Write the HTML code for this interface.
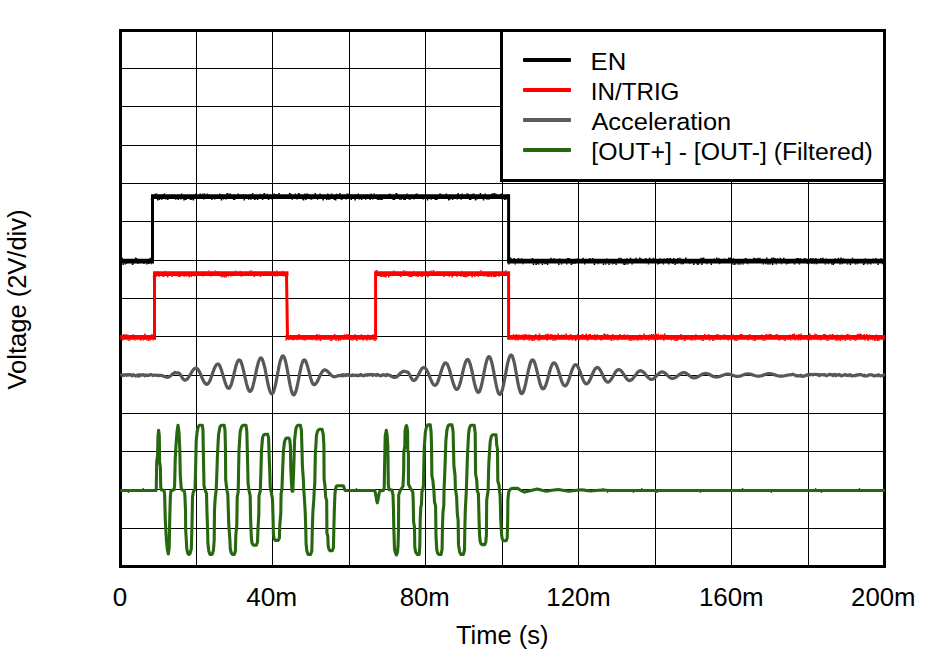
<!DOCTYPE html>
<html><head><meta charset="utf-8"><title>Waveform</title>
<style>
html,body{margin:0;padding:0;background:#fff}
svg{display:block}
text{font-family:"Liberation Sans",Arial,sans-serif;font-size:25px;fill:#000}
</style></head><body>
<svg width="930" height="657" viewBox="0 0 930 657">
<rect width="930" height="657" fill="#fff"/>
<path d="M196.5 30.5V566.5M272.5 30.5V566.5M349.5 30.5V566.5M425.5 30.5V566.5M502.5 30.5V566.5M578.5 30.5V566.5M655.5 30.5V566.5M731.5 30.5V566.5M808.5 30.5V566.5M120.5 68.5H884.5M120.5 106.5H884.5M120.5 145.5H884.5M120.5 183.5H884.5M120.5 221.5H884.5M120.5 260.5H884.5M120.5 298.5H884.5M120.5 336.5H884.5M120.5 375.5H884.5M120.5 413.5H884.5M120.5 451.5H884.5M120.5 489.5H884.5M120.5 528.5H884.5" stroke="#000" stroke-width="1" fill="none" shape-rendering="crispEdges"/>
<rect x="120.5" y="30.5" width="764.0" height="536.0" fill="none" stroke="#000" stroke-width="3" shape-rendering="crispEdges"/>
<g fill="none" stroke-linejoin="round" stroke-linecap="butt">
<path d="M120.3 261.1H154.0M151.0 196.7H510.1M507.1 261.1H884.8" stroke="#000" stroke-width="4.7"/>
<path d="M120.8 259.1v-1.6M122.1 259.1v-1.6M123.1 263.2v1.7M125.4 263.2v1.2M126.4 263.2v0.8M132.5 263.2v1.7M133.3 263.2v1.0M135.6 259.1v-1.6M136.6 259.1v-1.1M137.9 263.2v0.8M143.9 263.2v0.8M146.8 263.2v1.2M148.1 263.2v0.8M148.9 263.2v0.8M150.2 259.1v-1.3M151.5 263.2v1.0M152.5 259.1v-1.1M151.5 198.7v1.3M152.3 198.7v0.8M153.1 198.7v1.3M155.1 194.7v-0.9M156.1 194.7v-1.3M156.9 194.7v-0.9M157.7 198.7v1.7M159.5 198.7v1.3M161.9 198.7v1.0M162.9 194.7v-0.7M164.5 194.7v-1.1M165.8 198.7v0.8M167.8 198.7v1.2M175.7 198.7v1.0M178.3 198.7v1.3M180.9 198.7v0.8M181.7 194.7v-1.1M184.0 198.7v1.7M185.3 198.7v1.0M186.1 198.7v1.3M190.3 198.7v1.0M191.1 198.7v1.3M192.4 198.7v0.8M193.4 198.7v1.7M195.8 194.7v-1.3M200.2 194.7v-1.1M202.8 194.7v-1.1M203.8 198.7v0.8M204.6 194.7v-1.1M207.4 194.7v-1.3M211.9 198.7v1.3M214.8 198.7v0.8M219.8 194.7v-1.3M221.4 198.7v1.7M222.2 194.7v-0.7M223.5 198.7v0.8M226.1 198.7v0.8M227.1 194.7v-1.6M228.1 194.7v-1.1M229.4 194.7v-0.9M230.4 194.7v-1.1M233.7 198.7v1.2M234.7 198.7v1.3M238.3 194.7v-1.1M243.5 194.7v-0.7M244.3 198.7v1.7M248.7 198.7v1.0M250.0 194.7v-0.7M251.0 198.7v1.0M252.6 194.7v-1.6M254.6 198.7v1.3M255.6 198.7v0.8M257.7 198.7v1.2M260.3 194.7v-0.9M262.6 198.7v1.3M263.6 194.7v-0.9M264.4 194.7v-1.6M267.0 194.7v-0.9M268.6 198.7v1.3M272.0 198.7v0.8M273.0 194.7v-0.7M274.3 194.7v-1.3M275.3 194.7v-0.7M277.1 194.7v-0.7M279.1 194.7v-1.6M289.6 194.7v-1.6M290.6 194.7v-1.3M292.2 198.7v1.0M295.4 194.7v-1.3M297.0 198.7v0.8M298.6 194.7v-1.6M299.4 194.7v-1.3M302.6 198.7v0.8M303.6 198.7v1.7M304.9 194.7v-1.3M305.9 198.7v1.3M306.9 194.7v-1.3M308.5 194.7v-0.9M310.8 198.7v0.8M311.6 198.7v1.0M315.2 194.7v-1.6M317.6 198.7v1.0M320.0 194.7v-1.3M323.2 198.7v1.7M326.8 198.7v1.2M327.8 194.7v-1.1M328.8 198.7v1.0M329.6 198.7v1.0M331.6 194.7v-1.3M333.9 198.7v0.8M334.7 198.7v1.2M335.7 198.7v1.7M336.7 194.7v-0.9M337.5 194.7v-0.7M339.9 194.7v-1.6M341.2 198.7v1.0M342.0 198.7v1.0M346.1 198.7v0.8M347.1 194.7v-1.3M348.7 194.7v-0.9M350.3 194.7v-0.7M351.3 198.7v1.3M355.2 198.7v1.7M356.0 194.7v-0.7M358.3 194.7v-1.1M359.3 198.7v0.8M361.6 198.7v1.2M365.8 198.7v1.0M367.6 194.7v-0.7M370.2 198.7v1.2M371.2 194.7v-1.3M372.8 198.7v0.8M374.1 194.7v-1.3M377.2 198.7v0.8M378.2 198.7v1.3M379.8 198.7v1.0M381.1 198.7v1.2M382.1 198.7v1.2M389.0 194.7v-0.9M390.3 194.7v-0.9M393.2 198.7v1.3M394.5 198.7v1.3M396.1 194.7v-1.6M397.1 194.7v-1.1M399.7 198.7v1.0M401.3 198.7v1.0M403.9 198.7v1.2M405.2 198.7v1.2M407.0 194.7v-1.3M409.0 198.7v0.8M410.3 198.7v1.0M414.0 198.7v0.8M415.8 194.7v-0.9M417.1 194.7v-1.1M423.3 198.7v0.8M427.5 198.7v1.7M431.1 198.7v1.0M435.3 198.7v1.3M436.9 198.7v1.2M439.7 194.7v-1.1M440.7 194.7v-1.3M446.4 194.7v-1.1M448.7 198.7v1.7M449.7 198.7v1.0M452.6 198.7v1.2M457.3 198.7v0.8M458.1 194.7v-1.6M461.2 198.7v1.0M462.2 194.7v-1.1M466.8 194.7v-1.1M468.1 194.7v-1.3M469.7 198.7v1.2M470.7 198.7v1.3M472.3 194.7v-0.9M473.9 194.7v-1.3M475.5 198.7v1.7M477.1 198.7v0.8M480.4 194.7v-1.6M483.5 198.7v1.7M485.3 194.7v-1.1M486.9 198.7v1.0M489.0 198.7v1.0M491.9 194.7v-1.3M493.2 194.7v-1.1M494.2 194.7v-1.6M495.8 194.7v-1.1M500.6 194.7v-0.7M501.4 194.7v-1.3M502.4 198.7v1.0M504.7 198.7v1.3M506.3 198.7v0.8M507.6 194.7v-0.7M508.9 263.2v1.3M509.7 259.1v-0.9M510.7 259.1v-1.6M514.0 259.1v-1.1M515.3 263.2v1.2M518.5 259.1v-1.1M521.6 259.1v-0.9M522.9 263.2v1.0M532.5 259.1v-1.1M533.5 263.2v1.7M536.1 263.2v1.7M536.9 263.2v1.0M537.7 263.2v1.0M538.7 263.2v1.2M542.4 263.2v1.7M545.0 263.2v1.0M546.3 263.2v0.8M547.6 263.2v1.7M550.9 259.1v-1.3M553.8 259.1v-0.9M558.8 263.2v1.7M559.6 259.1v-0.7M561.6 263.2v1.3M566.8 263.2v1.3M567.6 259.1v-1.1M569.2 259.1v-1.1M571.3 263.2v1.7M572.1 263.2v1.0M573.1 263.2v0.8M575.2 263.2v0.8M577.5 259.1v-0.7M583.1 259.1v-1.3M584.7 263.2v1.3M589.9 259.1v-1.1M592.7 259.1v-1.1M594.5 263.2v1.7M598.1 263.2v1.0M603.5 263.2v1.7M605.8 263.2v1.2M606.8 259.1v-0.7M609.1 263.2v1.7M612.5 263.2v1.2M614.1 263.2v0.8M616.1 263.2v1.7M618.9 259.1v-1.3M620.9 259.1v-1.3M623.3 263.2v1.3M624.6 263.2v1.7M625.9 263.2v1.3M626.9 259.1v-0.9M627.9 263.2v1.2M630.5 259.1v-1.3M632.1 263.2v1.2M636.0 259.1v-1.3M639.7 259.1v-1.6M641.0 259.1v-0.7M645.9 259.1v-1.1M648.5 263.2v1.3M649.5 259.1v-1.3M650.3 259.1v-0.7M653.5 259.1v-1.3M657.8 263.2v1.3M659.4 263.2v0.8M660.2 259.1v-0.9M663.4 263.2v1.2M664.2 259.1v-0.7M667.1 259.1v-1.1M668.7 263.2v1.2M669.5 259.1v-1.1M670.5 259.1v-0.9M672.8 263.2v0.8M673.8 259.1v-1.1M675.1 263.2v1.7M677.1 263.2v0.8M677.9 259.1v-1.1M679.9 259.1v-1.3M681.2 263.2v1.0M682.2 263.2v1.0M683.2 263.2v1.0M685.8 259.1v-1.6M689.6 263.2v0.8M693.8 263.2v1.7M696.9 263.2v1.0M697.9 263.2v1.7M698.7 263.2v1.0M701.1 259.1v-1.3M701.9 263.2v1.7M702.9 259.1v-1.3M703.7 259.1v-1.6M706.9 263.2v1.0M711.3 263.2v1.7M713.9 259.1v-0.7M716.7 259.1v-1.6M718.8 259.1v-1.1M719.6 263.2v1.0M724.6 259.1v-0.7M728.8 259.1v-1.6M729.8 259.1v-0.9M730.8 259.1v-1.6M732.1 263.2v1.3M733.4 259.1v-0.9M734.2 263.2v1.7M735.2 263.2v1.3M737.6 263.2v1.3M739.2 263.2v1.3M740.8 263.2v1.3M743.2 263.2v1.2M745.0 259.1v-0.7M746.0 259.1v-1.1M747.6 263.2v1.0M753.9 259.1v-1.3M754.9 259.1v-0.7M755.9 259.1v-0.9M757.9 259.1v-1.3M759.9 259.1v-1.3M763.2 263.2v1.2M765.8 263.2v1.0M766.8 259.1v-1.6M767.8 263.2v1.2M768.6 263.2v1.2M770.4 263.2v1.2M771.7 259.1v-1.3M772.7 263.2v1.7M773.5 259.1v-1.6M774.5 259.1v-0.9M775.5 259.1v-0.9M776.3 263.2v1.3M777.6 259.1v-0.9M780.2 259.1v-1.3M781.5 263.2v1.0M783.8 259.1v-1.3M786.4 263.2v1.2M788.4 263.2v0.8M794.5 263.2v1.2M796.1 259.1v-0.7M797.4 259.1v-1.1M798.4 259.1v-1.1M799.4 263.2v1.3M800.4 259.1v-0.9M804.4 259.1v-1.1M806.0 259.1v-0.7M807.3 263.2v0.8M808.6 263.2v1.3M810.9 259.1v-1.1M811.9 263.2v0.8M812.9 259.1v-1.1M814.5 263.2v1.0M815.8 259.1v-1.1M816.8 263.2v1.0M820.8 259.1v-1.1M822.9 259.1v-1.3M825.3 263.2v1.3M826.3 259.1v-0.7M828.3 263.2v1.0M831.7 263.2v1.3M833.3 263.2v1.7M834.3 263.2v0.8M835.1 259.1v-0.9M838.4 259.1v-1.3M840.0 263.2v1.3M841.0 259.1v-1.6M842.3 263.2v1.0M843.3 259.1v-0.9M847.5 263.2v1.3M850.4 263.2v1.7M852.5 259.1v-1.3M855.4 263.2v1.2M857.4 263.2v1.0M863.6 263.2v1.7M864.6 263.2v1.0M865.4 259.1v-0.9M867.7 263.2v1.3M870.0 263.2v0.8M870.8 263.2v1.2M873.2 259.1v-0.7M875.8 259.1v-1.1M878.1 263.2v1.7M881.0 259.1v-0.9M882.6 263.2v1.0M883.9 263.2v0.8" stroke="#000" stroke-width="1.5"/>
<path d="M152.5 261.1L152.5 196.7M508.6 196.7L508.6 261.1" stroke="#000" stroke-width="3"/>
<path d="M120.3 337.3H156.0M153.0 273.7H288.5M285.5 337.3H377.1M374.1 273.7H510.1M507.1 337.3H884.8" stroke="#f00" stroke-width="4.7"/>
<path d="M122.6 339.4v1.2M123.9 335.2v-1.1M125.9 335.2v-0.9M127.5 335.2v-0.7M128.3 339.4v1.3M129.6 339.4v1.3M133.2 335.2v-0.9M134.8 339.4v1.2M140.7 339.4v1.3M143.3 339.4v1.0M144.9 335.2v-1.6M146.7 339.4v0.8M148.3 339.4v1.7M150.3 339.4v1.2M151.9 335.2v-1.3M153.5 339.4v1.0M153.5 275.8v1.7M156.1 275.8v1.3M157.1 271.6v-0.7M159.2 275.8v1.0M163.1 275.8v1.3M164.4 275.8v0.8M165.4 271.6v-0.9M167.7 275.8v1.7M171.9 275.8v1.3M178.4 275.8v1.0M180.0 275.8v1.3M184.2 275.8v1.0M186.5 275.8v0.8M189.1 275.8v1.7M191.4 275.8v1.3M194.5 275.8v0.8M203.0 275.8v0.8M205.3 271.6v-0.7M208.9 271.6v-1.1M210.9 275.8v0.8M215.3 271.6v-1.1M216.3 271.6v-0.7M217.9 271.6v-0.7M220.2 275.8v0.8M222.0 275.8v1.7M223.3 275.8v0.8M224.3 275.8v1.7M226.1 275.8v1.7M228.4 275.8v0.8M231.6 275.8v0.8M235.6 271.6v-1.1M240.4 271.6v-0.9M241.4 275.8v1.0M249.9 271.6v-0.9M250.9 271.6v-1.1M251.7 271.6v-1.1M254.3 275.8v1.2M255.6 271.6v-0.7M260.5 275.8v1.2M265.5 271.6v-0.7M275.3 275.8v0.8M276.6 271.6v-1.1M277.6 275.8v0.8M282.6 271.6v-0.9M283.6 275.8v0.8M286.0 339.4v1.2M287.3 335.2v-1.6M288.9 339.4v0.8M293.1 339.4v1.0M297.3 339.4v0.8M298.9 335.2v-1.1M304.1 339.4v1.0M305.4 339.4v1.0M312.2 339.4v0.8M316.1 339.4v1.3M316.9 335.2v-1.1M318.5 339.4v1.0M319.5 335.2v-0.7M320.5 339.4v1.7M330.6 339.4v1.3M331.6 339.4v1.7M334.7 335.2v-1.3M336.0 339.4v1.7M338.6 339.4v1.7M340.4 339.4v1.2M344.5 335.2v-0.9M346.8 335.2v-1.3M348.9 335.2v-1.3M351.0 339.4v0.8M351.8 339.4v1.2M352.8 339.4v1.2M355.1 335.2v-0.9M356.7 339.4v1.7M361.5 335.2v-0.9M363.1 339.4v1.2M366.7 339.4v1.3M368.0 335.2v-0.7M370.1 339.4v0.8M372.9 335.2v-0.9M374.5 339.4v1.7M375.5 339.4v1.0M375.6 271.6v-1.1M376.9 271.6v-1.6M380.5 275.8v1.0M381.3 275.8v1.3M383.3 275.8v1.2M384.3 275.8v1.3M385.9 275.8v1.7M388.8 275.8v1.7M393.0 271.6v-0.7M394.0 271.6v-1.1M400.5 275.8v1.2M403.6 271.6v-1.3M405.9 271.6v-0.9M409.3 275.8v1.2M410.3 275.8v1.0M411.3 275.8v1.2M412.9 275.8v0.8M413.9 271.6v-0.9M415.7 275.8v0.8M416.5 275.8v0.8M418.1 275.8v1.3M420.9 275.8v1.0M421.7 275.8v1.0M422.5 275.8v1.0M426.1 271.6v-0.7M427.9 275.8v1.7M429.5 271.6v-0.7M431.1 271.6v-1.1M433.5 271.6v-1.6M437.7 271.6v-0.7M443.3 271.6v-0.7M444.1 275.8v1.2M449.3 275.8v1.0M452.2 275.8v1.7M453.0 271.6v-0.7M456.9 275.8v1.0M460.9 275.8v1.0M461.9 271.6v-0.9M463.5 275.8v1.2M464.8 275.8v1.3M465.6 275.8v1.7M466.9 275.8v1.0M467.9 275.8v0.8M472.1 275.8v1.7M474.7 275.8v1.3M478.3 275.8v1.0M480.3 271.6v-0.9M481.1 271.6v-1.3M483.7 275.8v0.8M486.5 275.8v0.8M488.1 275.8v1.3M489.7 275.8v1.0M491.5 275.8v1.2M493.8 275.8v1.2M494.8 275.8v1.3M495.8 275.8v1.3M499.0 275.8v1.0M505.8 271.6v-1.3M508.2 275.8v1.7M509.2 275.8v1.3M508.6 335.2v-1.6M513.6 335.2v-0.9M515.7 339.4v1.2M516.5 335.2v-1.3M518.1 339.4v1.0M518.9 335.2v-0.7M522.5 335.2v-0.7M524.1 339.4v1.2M524.9 335.2v-1.3M526.2 335.2v-0.7M528.2 335.2v-0.7M529.0 339.4v1.0M529.8 335.2v-0.7M530.6 339.4v0.8M532.2 339.4v1.7M534.2 339.4v1.7M535.8 335.2v-1.1M538.6 339.4v1.3M539.4 335.2v-1.6M540.4 339.4v0.8M545.9 335.2v-1.3M547.2 339.4v1.3M548.0 335.2v-1.6M550.4 335.2v-1.3M552.0 335.2v-0.9M553.0 339.4v1.3M553.8 339.4v1.2M554.8 335.2v-0.7M555.6 339.4v1.3M558.2 335.2v-1.6M561.6 335.2v-0.7M564.0 335.2v-0.7M566.1 335.2v-1.6M568.4 339.4v0.8M569.4 339.4v0.8M570.7 335.2v-1.1M572.3 339.4v1.0M574.7 339.4v0.8M575.7 339.4v1.7M577.7 335.2v-1.3M579.0 339.4v1.0M581.8 335.2v-0.7M582.8 335.2v-1.3M586.2 335.2v-1.6M587.2 339.4v1.3M588.2 339.4v0.8M589.2 335.2v-1.1M590.2 335.2v-1.1M594.4 335.2v-0.9M595.4 339.4v1.2M597.2 335.2v-0.9M600.9 339.4v1.0M601.7 339.4v1.2M604.0 335.2v-1.6M605.3 335.2v-1.3M607.6 335.2v-1.3M610.4 339.4v0.8M611.4 339.4v1.7M612.7 335.2v-1.1M613.7 339.4v1.2M617.6 339.4v1.2M619.9 335.2v-1.1M624.4 335.2v-0.9M627.6 335.2v-0.7M629.4 339.4v1.3M630.4 339.4v1.3M631.7 339.4v1.3M633.5 339.4v0.8M634.5 339.4v0.8M636.9 339.4v1.2M638.5 339.4v1.2M639.8 335.2v-0.7M641.4 339.4v1.0M644.2 335.2v-1.6M646.2 339.4v0.8M648.8 339.4v1.3M649.6 335.2v-0.7M651.6 335.2v-1.3M653.6 335.2v-1.1M654.6 339.4v1.0M655.6 335.2v-1.6M656.6 335.2v-1.3M657.4 339.4v0.8M658.4 335.2v-1.6M661.0 335.2v-0.7M662.8 335.2v-0.7M663.8 339.4v1.3M664.8 335.2v-1.6M671.3 339.4v1.0M674.4 339.4v1.3M675.7 339.4v1.2M676.7 339.4v1.7M677.5 339.4v1.3M681.1 335.2v-1.1M684.7 339.4v1.7M685.5 339.4v0.8M690.7 339.4v1.0M691.7 339.4v0.8M692.5 339.4v1.0M695.1 339.4v1.0M695.9 335.2v-0.9M700.8 339.4v0.8M701.8 339.4v1.2M703.4 339.4v1.7M704.7 335.2v-1.1M708.6 335.2v-1.3M709.6 339.4v1.3M712.8 339.4v1.7M714.4 339.4v0.8M717.0 335.2v-1.3M718.8 335.2v-0.7M720.4 339.4v0.8M724.0 335.2v-0.7M725.0 335.2v-0.7M728.2 339.4v1.0M729.0 339.4v0.8M733.2 335.2v-0.7M734.8 339.4v1.3M736.4 339.4v1.7M738.0 339.4v0.8M740.4 335.2v-1.3M742.0 335.2v-1.1M748.0 339.4v1.0M749.6 335.2v-1.3M753.0 339.4v1.0M753.8 339.4v1.0M755.1 339.4v1.7M761.6 335.2v-0.7M762.6 339.4v1.0M763.6 339.4v1.2M764.9 339.4v1.3M766.2 335.2v-1.3M767.8 335.2v-0.7M769.4 335.2v-1.1M771.0 335.2v-1.3M776.2 335.2v-1.3M777.5 335.2v-0.7M778.8 339.4v1.0M779.6 339.4v1.0M784.0 339.4v0.8M785.0 339.4v1.7M789.7 335.2v-0.7M790.5 339.4v1.0M792.5 335.2v-1.3M794.1 335.2v-1.6M795.1 339.4v1.2M796.4 335.2v-0.7M798.2 339.4v1.2M799.0 335.2v-1.1M800.3 339.4v1.0M801.1 335.2v-1.6M808.1 339.4v1.2M809.1 339.4v1.2M809.9 335.2v-1.6M810.9 339.4v0.8M814.9 335.2v-1.6M816.7 335.2v-0.9M818.3 339.4v0.8M820.9 339.4v1.2M823.7 335.2v-1.3M824.7 335.2v-1.1M825.7 335.2v-0.7M827.0 339.4v1.7M828.6 339.4v1.2M829.9 335.2v-0.9M831.9 335.2v-0.7M832.9 335.2v-1.3M836.3 339.4v1.7M837.3 335.2v-0.7M838.3 339.4v1.2M840.3 339.4v1.7M841.6 335.2v-0.7M842.4 339.4v0.8M845.3 339.4v1.3M846.3 339.4v0.8M847.1 335.2v-1.1M848.1 335.2v-0.7M849.4 335.2v-0.7M850.4 339.4v1.3M854.6 339.4v1.0M855.9 339.4v1.3M857.5 335.2v-1.1M859.1 335.2v-1.1M860.4 335.2v-1.6M861.2 335.2v-1.3M864.2 335.2v-1.1M865.0 339.4v1.2M866.8 335.2v-1.1M868.1 339.4v1.7M869.4 335.2v-0.7M872.8 339.4v0.8M874.8 339.4v1.7M875.6 339.4v1.0M876.4 335.2v-0.7M877.4 339.4v1.7M878.4 339.4v1.3M879.2 339.4v1.0M883.4 339.4v1.7" stroke="#f00" stroke-width="1.5"/>
<path d="M154.5 337.3L154.5 273.7M286.5 273.7L287.5 337.3M375.6 337.3L375.6 273.7M508.6 273.7L508.6 337.3" stroke="#f00" stroke-width="3"/>
<path d="M120.3 375L121.2 374.8L122.1 375.5L123 374.7L123.9 375.4L124.8 375.1L125.7 374.6L126.6 375.3L127.5 374.6L128.4 375.2L129.3 374.7L130.2 374.7L131.1 375.2L132 375.8L132.9 374.7L133.8 374.9L134.7 375.5L135.6 376L136.5 375.4L137.4 375.1L138.3 376L139.2 374.6L140.2 375.8L141.1 375L142 374.8L142.9 374.7L143.8 375L144.7 375.8L145.6 374.8L146.5 375.4L147.4 375.5L148.3 375.1L149.2 375.4L150.1 374.6L151 374.6L151.9 374.9L152.8 375.6L153.7 375.2L154.6 375L155.5 375.4L156.4 375.2L157.3 375L158.2 375.7L159.1 375.6L160 375.3L161 375.4L161.9 375.6L162.9 375.9L163.8 376.3L164.8 376.7L165.8 377L166.7 377.2L167.7 377.3L168.6 377.1L169.6 376.6L170.5 375.9L171.4 375.1L172.4 374.2L173.3 373.5L174.3 373L175.2 372.4L176.1 372.9L177.1 372.8L178 372.8L179 373.2L180 374.2L181 375.7L182 377.3L183 378.8L184 379.8L185 380.2L185.9 380L186.8 379.4L187.8 378.4L188.7 377.2L189.6 375.7L190.5 374.2L191.4 372.6L192.3 371.1L193.2 369.9L194.2 368.9L195.1 368.3L196 368.1L196.9 368.4L197.8 369.2L198.7 370.5L199.6 372.2L200.5 374.1L201.4 376.2L202.3 378.4L203.2 380.3L204.1 382L205 383.3L205.9 384.1L206.8 384.4L207.7 384.1L208.6 383L209.6 381.4L210.5 379.3L211.4 376.8L212.3 374.1L213.2 371.5L214.1 369L215.1 366.9L216 365.3L216.9 364.2L217.8 363.9L218.7 364.3L219.6 365.5L220.5 367.5L221.4 370L222.3 373L223.2 376.1L224.2 379.3L225.1 382.3L226 384.8L226.9 386.8L227.8 388L228.7 388.4L229.7 387.8L230.6 386.1L231.6 383.5L232.5 380L233.5 376.1L234.4 372.1L235.4 368.2L236.3 364.7L237.3 362.1L238.2 360.4L239.2 359.8L240.1 360.3L241 361.9L241.9 364.4L242.8 367.7L243.7 371.5L244.6 375.6L245.6 379.8L246.5 383.6L247.4 386.9L248.3 389.4L249.2 391L250.1 391.5L251.1 390.8L252.1 388.8L253 385.7L254 381.7L255 377.1L256 372.3L257 367.7L258 363.7L258.9 360.6L259.9 358.6L260.9 357.9L261.8 358.5L262.7 360.3L263.6 363.2L264.6 366.9L265.5 371.3L266.4 375.9L267.3 380.6L268.2 385L269.1 388.7L270.1 391.6L271 393.4L271.9 394L272.8 393.3L273.7 391.4L274.6 388.4L275.6 384.4L276.5 379.8L277.4 374.9L278.3 370L279.2 365.4L280.1 361.4L281.1 358.4L282 356.5L282.9 355.8L283.8 356.5L284.7 358.4L285.6 361.5L286.5 365.6L287.4 370.3L288.3 375.3L289.2 380.4L290.1 385.1L291 389.2L291.9 392.3L292.8 394.2L293.7 394.9L294.7 394.2L295.6 392.1L296.6 388.8L297.5 384.6L298.5 379.8L299.4 374.9L300.4 370.1L301.3 365.9L302.3 362.6L303.2 360.5L304.2 359.8L305.2 360.4L306.2 362.2L307.1 364.9L308.1 368.4L309.1 372.2L310.1 376.1L311.1 379.6L312 382.3L313 384.1L314 384.7L315 384.4L315.9 383.5L316.9 382.1L317.9 380.4L318.8 378.4L319.8 376.2L320.7 374.2L321.7 372.5L322.7 371.1L323.6 370.2L324.6 369.9L325.6 370.1L326.6 370.6L327.5 371.3L328.5 372.3L329.5 373.3L330.5 374.4L331.5 375.4L332.4 376.1L333.4 376.6L334.4 376.8L335.3 376.7L336.3 376.4L337.2 376L338.1 375.6L339.1 375.3L340 375.8L340.9 375.5L341.8 374.9L342.7 375.9L343.6 374.6L344.5 375.1L345.4 375.6L346.3 374.7L347.2 375.2L348.2 374.5L349.1 375.4L350 375.6L350.9 375.3L351.8 375.7L352.7 374.9L353.6 375.5L354.5 375.3L355.4 375.3L356.3 375.1L357.2 375.7L358.1 375.8L359 375.1L359.9 375.4L360.8 374.5L361.7 375.4L362.6 375.3L363.5 375.8L364.5 375.6L365.4 374.8L366.3 374.9L367.2 375.3L368.1 374.4L369 375L369.9 374.6L370.8 374.5L371.7 374.4L372.6 375.4L373.5 374.5L374.4 374.7L375.3 374.9L376.2 375.6L377.1 374.4L378 374.9L378.9 375.1L379.8 375.6L380.8 375.5L381.7 375.6L382.6 374.7L383.5 374.9L384.4 374.8L385.3 375.6L386.2 375.7L387.1 374.5L388 375L389 375.1L390 375.5L391 376L391.9 376.5L392.9 377L393.9 377.4L394.9 377.5L395.8 377.3L396.7 376.8L397.7 376.1L398.6 375.1L399.5 374.1L400.4 373.1L401.4 372.4L402.3 371.9L403.2 371.2L404.1 371.3L405.1 371.4L406.1 371.8L407 371.9L408 372.3L408.9 373.5L409.9 375.2L410.8 377.2L411.8 378.9L412.7 380.1L413.7 380.5L414.6 380.2L415.6 379.5L416.5 378.2L417.4 376.7L418.3 374.9L419.3 373L420.2 371.2L421.1 369.7L422 368.4L423 367.7L423.9 367.4L424.8 367.7L425.8 368.6L426.7 370L427.6 371.9L428.6 374.1L429.5 376.4L430.4 378.7L431.4 380.9L432.3 382.8L433.2 384.2L434.2 385.1L435.1 385.4L436.1 384.9L437 383.6L438 381.5L438.9 378.8L439.9 375.7L440.8 372.5L441.8 369.4L442.7 366.7L443.7 364.6L444.6 363.3L445.6 362.8L446.5 363.3L447.5 364.6L448.4 366.7L449.4 369.5L450.3 372.7L451.2 376.1L452.2 379.6L453.1 382.8L454.1 385.6L455 387.7L456 389L456.9 389.5L457.9 388.9L458.8 387.1L459.8 384.3L460.8 380.7L461.8 376.6L462.7 372.3L463.7 368.2L464.7 364.6L465.7 361.8L466.6 360L467.6 359.4L468.6 360.1L469.5 362L470.5 365.1L471.5 369.1L472.5 373.6L473.4 378.3L474.4 382.8L475.4 386.8L476.4 389.9L477.3 391.8L478.3 392.5L479.3 391.8L480.2 389.7L481.2 386.3L482.2 382L483.2 377.1L484.1 372L485.1 367.1L486.1 362.8L487.1 359.4L488 357.3L489 356.6L489.9 357.2L490.8 359.1L491.7 362.2L492.6 366.1L493.5 370.6L494.4 375.6L495.3 380.5L496.2 385L497.1 388.9L498 392L498.9 393.9L499.8 394.5L500.7 393.8L501.7 391.8L502.6 388.7L503.6 384.6L504.5 379.8L505.5 374.7L506.4 369.6L507.3 364.8L508.3 360.7L509.2 357.6L510.2 355.6L511.1 354.9L512.1 355.7L513 358L514 361.6L515 366.2L515.9 371.5L516.9 377.1L517.8 382.4L518.8 387L519.8 390.6L520.7 392.9L521.7 393.7L522.7 393L523.7 391L524.6 387.8L525.6 383.8L526.6 379.2L527.6 374.3L528.6 369.7L529.6 365.7L530.5 362.5L531.5 360.5L532.5 359.8L533.5 360.4L534.4 362.1L535.4 364.8L536.3 368.3L537.3 372.3L538.2 376.4L539.2 380.4L540.1 383.9L541.1 386.6L542 388.3L543 388.9L543.9 388.5L544.8 387.2L545.8 385.1L546.7 382.4L547.6 379.2L548.5 375.9L549.4 372.5L550.3 369.3L551.2 366.6L552.2 364.5L553.1 363.2L554 362.8L554.9 363.2L555.8 364.3L556.8 366.2L557.7 368.6L558.6 371.4L559.5 374.3L560.4 377.3L561.3 380.1L562.2 382.5L563.2 384.4L564.1 385.5L565 385.9L566 385.5L566.9 384.2L567.9 382.2L568.9 379.7L569.8 376.8L570.8 373.8L571.7 370.9L572.7 368.4L573.7 366.4L574.6 365.1L575.6 364.7L576.6 365.1L577.6 366.2L578.5 368L579.5 370.3L580.5 372.9L581.5 375.7L582.5 378.3L583.5 380.6L584.4 382.4L585.4 383.5L586.4 383.9L587.3 383.6L588.2 382.8L589.1 381.5L590 379.8L590.9 377.8L591.8 375.6L592.7 373.5L593.6 371.5L594.5 369.8L595.4 368.5L596.3 367.7L597.2 367.4L598.2 367.7L599.1 368.6L600.1 369.9L601.1 371.7L602 373.7L603 375.8L603.9 377.8L604.9 379.6L605.9 380.9L606.8 381.8L607.8 382.1L608.7 381.9L609.6 381.3L610.5 380.3L611.5 379L612.4 377.5L613.3 375.9L614.2 374.2L615.1 372.7L616 371.4L617 370.4L617.9 369.8L618.8 369.6L619.7 369.8L620.6 370.3L621.5 371.2L622.4 372.4L623.3 373.7L624.2 375.1L625.1 376.5L626 377.9L626.9 379L627.8 379.9L628.7 380.4L629.6 380.6L630.5 380.4L631.4 379.9L632.3 379.2L633.2 378.1L634.1 376.9L635 375.7L636 374.4L636.9 373.2L637.8 372.1L638.7 371.4L639.6 370.9L640.5 370.7L641.4 370.8L642.3 371.3L643.2 372L644.2 372.9L645.1 373.9L646 375L646.9 376.2L647.8 377.2L648.8 378.1L649.7 378.8L650.6 379.3L651.5 379.4L652.5 379.2L653.4 378.8L654.4 378.1L655.3 377.2L656.3 376.2L657.2 375.1L658.2 374.1L659.1 373.2L660.1 372.5L661 372.1L662 371.9L663 372L663.9 372.4L664.9 373L665.8 373.8L666.8 374.7L667.7 375.6L668.7 376.5L669.6 377.3L670.6 377.9L671.5 378.3L672.5 378.4L673.4 378.3L674.4 378L675.3 377.6L676.3 376.9L677.2 376.3L678.1 375.5L679.1 374.7L680 374.1L681 373.4L681.9 373L682.9 372.7L683.8 372.6L684.7 372.7L685.7 373L686.6 373.5L687.5 374.1L688.4 374.9L689.4 375.6L690.3 376.4L691.2 377L692.1 377.5L693.1 377.8L694 377.9L695 377.8L695.9 377.6L696.9 377.2L697.9 376.8L698.8 376.2L699.8 375.6L700.8 375.1L701.7 374.5L702.7 374.1L703.7 373.7L704.6 373.5L705.6 373.4L706.6 373.5L707.5 373.7L708.5 374L709.5 374.5L710.4 375L711.4 375.5L712.3 376L713.3 376.5L714.3 376.8L715.2 377L716.2 377.1L717.1 377L718.1 376.9L719 376.7L720 376.4L720.9 376L721.9 375.6L722.8 375.2L723.7 374.9L724.7 374.5L725.6 374.3L726.6 374.2L727.5 374.1L728.4 374.1L729.3 374.3L730.2 374.5L731.1 374.8L732 375.1L733 375.4L733.9 375.7L734.8 376L735.7 376.2L736.6 376.4L737.5 376.4L738.4 376.3L739.4 376.2L740.3 376L741.3 375.7L742.2 375.3L743.2 375L744.1 374.6L745.1 374.3L746 374.1L747 374L747.9 373.9L748.9 373.9L749.8 374.1L750.8 374.3L751.8 374.6L752.7 374.9L753.7 375.2L754.6 375.5L755.6 375.8L756.6 376L757.5 376.2L758.5 376.2L759.5 376.1L760.4 376L761.4 375.8L762.4 375.4L763.4 375.1L764.3 374.7L765.3 374.4L766.3 374L767.3 373.8L768.2 373.7L769.2 373.6L770.2 373.6L771.1 373.8L772.1 374L773.1 374.2L774 374.6L775 374.9L776 375.2L776.9 375.6L777.9 375.8L778.9 376L779.8 376.2L780.8 376.2L781.7 376.2L782.7 376.1L783.6 376L784.5 375.8L785.4 375.6L786.4 375.4L787.3 375.2L788.2 375L789.1 374.9L790.1 374.8L791 374.9L791.9 374.5L792.8 374.1L793.7 374.9L794.6 374.9L795.5 375.3L796.5 376.1L797.4 375.8L798.3 375.7L799.2 375.9L800.1 376L801 375.1L801.9 376.4L802.8 376.2L803.8 376.2L804.7 376L805.6 375.3L806.5 375.2L807.4 374.7L808.3 375.4L809.2 374.5L810.2 374.4L811.1 374.6L812 374.5L812.9 374.8L813.8 374.3L814.7 374.3L815.6 374.5L816.5 374.4L817.5 374.8L818.4 374.3L819.3 375.6L820.2 375.2L821.1 374.5L822 374.6L822.9 374.8L823.8 374.8L824.7 374.5L825.6 375.5L826.6 375.8L827.5 375L828.4 375L829.3 374.4L830.2 374.4L831.1 374.8L832 374.7L832.9 375.6L833.8 374.6L834.8 374.4L835.7 375.7L836.6 375.1L837.5 374.6L838.4 375.2L839.3 374.4L840.2 375.1L841.1 375.8L842 375.7L842.9 375.4L843.9 374.8L844.8 374.9L845.7 374.6L846.6 375.5L847.5 375.2L848.4 375.6L849.3 374.9L850.2 374.7L851.1 375.6L852 375.9L852.9 375.7L853.9 375.6L854.8 375.7L855.7 375.6L856.6 374.8L857.5 375.2L858.4 375L859.3 374.5L860.2 374.5L861.1 374.9L862 374.9L863 375.5L863.9 375.9L864.8 375.2L865.7 375.9L866.6 376L867.5 375.9L868.4 375.1L869.3 374.8L870.2 374.9L871.1 374.8L872.1 374.8L873 375.5L873.9 375.9L874.8 375.8L875.7 375.3L876.6 375.5L877.5 375.7L878.4 374.7L879.3 375.5L880.2 375.9L881.2 375.7L882.1 375.7L883 375.3L883.9 374.8L884.8 375.3" stroke="#585858" stroke-width="3.2"/>
<path d="M120.3 490.5L156 490.5L156.3 488L156.7 462L157.6 455L158 436L158.6 430.3L159.3 436L159.6 462L160.4 467L160.7 487L161.5 490L164 490.3L164.6 494L165.3 520L166.4 540L167.4 550L168.3 554L169.2 548L169.7 520L170.4 496L170.9 491L174 489.5L174.6 486L175.2 460L176 445L177 432L178 425.3L179 432L179.8 450L180.3 475L181.2 488L182 490L184 490.3L184.8 494L185.5 510L185.7 530L186.8 549L187.8 553.5L188.8 554.5L190 553.5L191.3 549L192 525L192.5 497L193.3 492L195 489L195.5 474L196.2 441L197.2 431L198.2 427L199.3 425.2L202.3 425.2L203 430L203.3 450L203.7 470L204 486L205.4 490.8L206.5 493.5L207 513L207.6 530L207.9 543L208.8 551.2L210 554.4L212.2 554.4L213.5 550L214.2 540L214.5 510L215.2 498L216.2 490L216.8 475L217.4 456.5L218.5 435L219.9 427L221.3 425.2L224.2 425.2L225 430L225.4 445L225.7 480L227 490.8L227.8 494L228.8 525L229.9 540L230.3 549L231.3 553L232.4 554.4L234.4 554.4L235.4 551L235.8 535L236.8 525L237.2 497L238.2 492L238.6 470L239 450L240.2 431.5L241.5 427L243 425.2L246 425.2L246.8 431L247.2 446L247.8 470L248.1 484L249.1 490.8L250.2 496L250.5 515L251 530L251.4 538L252 543L253.4 545.3L256.3 545.3L257.5 542L257.9 530L258.8 515L259 496L260.3 490.7L260.8 475L261.5 450L262.6 437.5L263.6 435L264.8 434.3L267.7 434.3L268.6 438L269.1 455L269.9 475L270.2 487L271.5 493.5L272.5 499L273.1 520L273.4 534L274.2 539L275.4 540.4L278.2 540.4L279.4 538L279.8 525L280.8 513L281.1 494L282 488L282.3 479L283.4 451L284.5 441.7L285.5 439L286.6 438L288.8 438L289.8 440L290.4 446L290.8 469L291.6 485L292.1 491.3L292.9 491.3L293.2 482L293.7 469L294.6 440L295.9 428.5L297 426L298 425.2L300.3 425.2L301.4 430L302 450L302.4 466L303.4 480L303.8 490L304.5 500L305.2 512L305.8 530L306.1 544L306.9 551L308.1 554.4L310.6 554.4L311.8 551L312.3 530L312.9 511.5L313.8 500L314.2 491L314.8 484L315.3 455L316.5 435L317.6 431L319.3 429.2L322 429.2L323.2 434L323.9 445L324.1 479L325 486L325.6 496.5L326.7 501L326.9 533L327.8 536L328.2 546L329 549.5L330 550.6L332.3 550.6L333.4 548L333.8 530L334.3 511L334.9 495L335.4 489.5L336.3 486.5L337.2 485.7L343.2 485.7L344 487.5L345.1 490.5L374.8 490.5L375.6 494L376.6 500L377.3 502.8L378.2 499L379.2 493L380 491L383.3 490.5L384.2 488L384.7 460L385.2 436L386.3 430.3L387.2 436L387.8 445L388.3 484L389 489.6L392 490L393 495L393.5 510L393.8 528L394.5 549L395.5 553L396.5 555L397.5 552L398.1 545L398.5 528L398.7 495L400.3 490.5L403 486.2L403.7 470L403.8 452L404.8 446L405 431.5L405.8 427L406.4 425.5L407 427L407.6 432L407.7 450L408.4 453L408.4 484L410.5 488.5L412.8 491.8L413.2 500L413.6 522L414.5 527L414.8 547L415.6 552L417.2 554.4L419.2 554.4L419.8 546L420.2 520L420.8 507L421.5 504L421.9 492L423.4 486.5L424.2 448.5L425.4 431.5L426.5 427L427.8 424.9L430.3 424.9L431.1 432L431.5 445L431.9 476L432.8 480L433.9 490.8L434.5 502L435.6 506L436 536.4L436.8 550L437.6 553L438.7 554.4L441.1 554.4L442.1 549L442.5 525L443 512L443.8 505L444 491L444.8 472.5L445.9 440.5L447 429.5L448 426L449 424.9L452 424.9L453.1 431.4L453.9 465.7L455 474.8L455.4 489L456.6 496.4L457.3 513.5L458.1 520L458.5 544.4L459.6 551.8L460.8 554.4L463.4 554.4L464.5 550L464.8 530L465.3 510L466 497L466.4 489L467.3 460L468.5 434.8L469.3 428.5L470.3 426L471.2 425.2L474.2 425.2L475.2 433L475.6 474L476.7 480L477.3 490.8L478.4 494L479 517L479.5 534L480.1 541L481 543.8L482 544.6L484.7 544.6L485.8 542L486.4 535L486.7 500L488.1 490.7L488.6 470L489 460L490.2 441.7L491.3 436.3L492.7 434.8L496 434.8L496.7 445L497.5 449L497.8 481L499 485L499.6 492L500.1 495L500.7 519L501.6 535L502.3 539L503.2 540.7L506.2 540.7L507.2 538L507.7 520L507.9 500L508.7 492L510.5 489L513.2 488.2L517.2 488.2L521 490.5L524.6 492.1L530 490.8L537.2 489L542 490.3L546.5 491.3L552 490.2L558.4 489.5L564 490.5L569 491.3L575 490.5L581.6 489.7L586 490.4L590.7 491L596 490.5L602 490L610 490.5L884.8 490.5" stroke="#27680f" stroke-width="3.1"/>
<path d="M633.5 491.7v1.3M641.8 489.3v-1.3M655.6 491.7v1.3M657.3 491.7v1.3M603.3 489.3v-1.3M607.5 491.7v1.3M128.5 491.7v1.3M143.2 489.3v-1.3M700.4 491.7v1.3M742.6 489.3v-1.3M771.3 491.7v1.3M815.6 489.3v-1.3M821.4 491.7v1.3M859.5 489.3v-1.3M356.4 489.3v-1.3" stroke="#27680f" stroke-width="1.4"/>
</g>
<rect x="501.5" y="30.5" width="383" height="150" fill="#fff" stroke="#000" stroke-width="3" shape-rendering="crispEdges"/>
<rect x="523" y="58" width="48" height="4" rx="1" fill="#000"/>
<text transform="translate(590.6 70.3) scale(1.05 1)" style="font-size:24.5px">EN</text>
<rect x="523" y="88" width="48" height="4" rx="1" fill="#f00"/>
<text transform="translate(590.8 100.3) scale(0.987 1)" style="font-size:24.5px">IN/TRIG</text>
<rect x="523" y="118" width="48" height="4" rx="1" fill="#5a5a5a"/>
<text transform="translate(591.4 130.3) scale(1.038 1)" style="font-size:24.5px">Acceleration</text>
<rect x="523" y="148" width="48" height="4" rx="1" fill="#27680f"/>
<text transform="translate(591.3 160.3) scale(1.012 1)" style="font-size:24.5px">[OUT+] - [OUT-] (Filtered)</text>
<text transform="translate(119.9 606.4) scale(1.04 1)" text-anchor="middle">0</text>
<text transform="translate(271.7 606.4) scale(1.05 1)" text-anchor="middle">40m</text>
<text transform="translate(424.7 606.4) scale(1.03 1)" text-anchor="middle">80m</text>
<text transform="translate(578.5 606.4) scale(1.03 1)" text-anchor="middle">120m</text>
<text transform="translate(731.3 606.4) scale(1.035 1)" text-anchor="middle">160m</text>
<text transform="translate(883.3 606.4) scale(1.03 1)" text-anchor="middle">200m</text>
<text transform="translate(502.2 644.4) scale(1.02 1)" text-anchor="middle">Time (s)</text>
<text transform="translate(25.8 299.5) rotate(-90) scale(1.02 1)" text-anchor="middle">Voltage (2V/div)</text>
</svg>
</body></html>
